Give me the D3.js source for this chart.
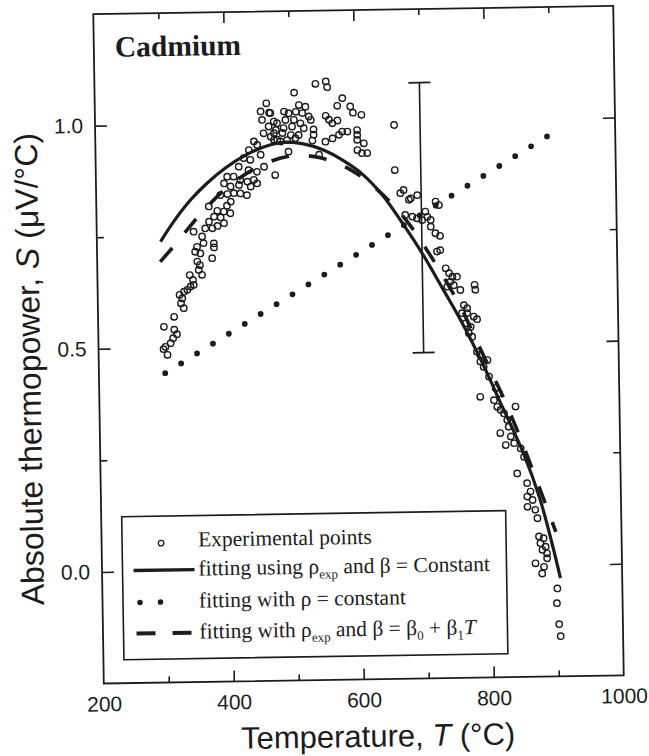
<!DOCTYPE html>
<html><head><meta charset="utf-8">
<script src="https://cdn.jsdelivr.net/npm/d3@7"></script>
<style>body{margin:0;background:#fff}</style></head>
<body>
<svg id="chart" width="649" height="756"></svg>
<script>
// ---- data ----
const xTickLabels = [200, 400, 600, 800, 1000];
const xTicksMajor = [400, 600, 800];
const xTicksMinor = [300, 500, 700, 900];
const yTicksMajor = [0, 0.5, 1.0];
const yTicksMinor = [0.25, 0.75];

const expT = [301,317,317,321,315,311,303,306,300,332,328,330,326,333,338,343,348,347,342,361,356,358,354,377,351,359,354,364,380,380,362,349,367,378,386,396,373,381,391,406,396,373,386,401,407,391,402,412,422,432,
464,455,468,457,475,467,459,478,470,480,444,449,436,454,428,438,420,435,459,448,402,412,422,433,443,448,476,397,407,420,438,
540,556,558,507,581,593,573,597,610,555,560,573,565,660,491,514,524,498,509,519,529,532,506,493,480,470,490,503,516,521,475,488,501,513,536,536,534,475,485,495,508,554,565,575,588,580,603,603,603,613,603,610,618,497,544,
660,673,668,684,694,681,722,727,675,686,693,701,706,709,714,714,721,728,728,723,736,741,746,753,743,748,738,758,780,781,763,768,760,768,778,783,765,773,770,775,782,787,798,787,792,800,786,810,815,807,812,817,822,827,829,840,816,832,824,837,847,852,841,856,861,856,864,856,868,871,873,880,875,883,878,885,867,880,877,900,899,902,904,885];
const expS = [0.547,0.569,0.540,0.530,0.521,0.510,0.502,0.484,0.497,0.588,0.599,0.610,0.618,0.625,0.629,0.636,0.640,0.651,0.662,0.662,0.673,0.684,0.692,0.699,0.714,0.710,0.725,0.733,0.732,0.723,0.748,0.759,0.766,0.766,0.771,0.777,0.781,0.792,0.790,0.799,0.803,0.815,0.805,0.816,0.825,0.840,0.842,0.844,0.843,0.839,
1.044,1.026,1.023,1.007,1.003,0.992,0.977,0.984,0.969,0.962,0.959,0.951,0.940,0.929,0.922,0.918,0.903,0.895,0.902,0.891,0.881,0.881,0.873,0.869,0.873,0.865,0.883,0.866,0.859,0.862,0.858,
1.086,1.091,1.078,1.067,1.053,1.034,1.036,1.020,1.015,1.014,1.005,1.003,0.997,0.991,1.025,1.039,1.035,1.021,1.024,1.021,1.013,1.005,1.006,1.006,0.999,1.022,0.988,0.991,0.998,0.987,0.977,0.977,0.972,0.972,0.984,0.972,0.959,0.962,0.958,0.961,0.965,0.956,0.963,0.971,0.978,0.978,0.981,0.970,0.959,0.951,0.936,0.929,0.929,0.935,0.927,
0.890,0.845,0.838,0.826,0.833,0.823,0.818,0.810,0.789,0.785,0.781,0.777,0.796,0.784,0.777,0.762,0.747,0.741,0.709,0.706,0.668,0.657,0.649,0.649,0.638,0.630,0.627,0.619,0.630,0.619,0.585,0.578,0.567,0.567,0.559,0.553,0.544,0.536,0.522,0.514,0.480,0.473,0.461,0.458,0.446,0.424,0.379,0.398,0.386,0.371,0.356,0.349,0.341,0.326,0.311,0.356,0.297,0.289,0.270,0.274,0.262,0.243,0.206,0.184,0.165,0.154,0.146,0.131,0.124,0.105,0.064,0.060,0.049,0.041,0.034,0.026,0.004,-0.004,-0.019,-0.053,-0.086,-0.133,-0.160,0.015];

// fitting using rho_exp and beta = constant (solid)
const fitConstT = [298,320,345,370,400,430,460,490,520,550,580,610,640,670,700,730,760,790,820,850,875,895,905];
const fitConstS = [0.738,0.785,0.830,0.866,0.901,0.928,0.947,0.956,0.952,0.938,0.914,0.882,0.835,0.772,0.703,0.625,0.545,0.455,0.355,0.255,0.150,0.035,-0.030];
// fitting with rho = constant (dotted)
const fitRhoT = [302, 895];
const fitRhoS = [0.443, 0.960];
// fitting with rho_exp and beta = beta0 + beta1 T (dashed)
const fitLinT = [297,320,340,360,400,450,500,546,600,650,680,720,760,780,802,822,842,862,880,899];
const fitLinS = [0.693,0.730,0.765,0.798,0.855,0.902,0.925,0.920,0.885,0.822,0.770,0.680,0.575,0.510,0.440,0.375,0.303,0.225,0.152,0.074];
// error bar
const errT = [700];
const errLow = [0.48];
const errHigh = [1.085];

// ---- layout ----
const ink = "#1c1c1c";
const svg = d3.select("#chart");
const g = svg.append("g").attr("transform", "rotate(-0.9,357,344)");
const L = 98.5, R = 618.5, T = 10, B = 679.5;
const x = d3.scaleLinear().domain([200, 1000]).range([L, R]);
const y = d3.scaleLinear().domain([-0.25, 1.25]).range([B, T]);

// frame
g.append("rect").attr("x", L).attr("y", T).attr("width", R - L).attr("height", B - T)
  .attr("fill", "none").attr("stroke", ink).attr("stroke-width", 1.8);

function tickAxis(axis, tr, len, vals) {
  const a = g.append("g").attr("transform", tr)
    .call(axis.tickValues(vals).tickSizeInner(len).tickSizeOuter(0).tickFormat(""));
  a.select(".domain").remove();
  a.selectAll("line").attr("stroke", ink).attr("stroke-width", 1.6);
}
tickAxis(d3.axisBottom(x), `translate(0,${B})`, -11, xTicksMajor);
tickAxis(d3.axisBottom(x), `translate(0,${B})`, -6, xTicksMinor);
tickAxis(d3.axisTop(x), `translate(0,${T})`, -11, xTicksMajor);
tickAxis(d3.axisTop(x), `translate(0,${T})`, -6, xTicksMinor);
tickAxis(d3.axisLeft(y), `translate(${L},0)`, -12, yTicksMajor);
tickAxis(d3.axisLeft(y), `translate(${L},0)`, -7, yTicksMinor);
tickAxis(d3.axisRight(y), `translate(${R},0)`, -12, yTicksMajor);
tickAxis(d3.axisRight(y), `translate(${R},0)`, -7, yTicksMinor);

// tick labels
const xl = g.append("g").attr("transform", `translate(0,${B})`)
  .call(d3.axisBottom(x).tickValues(xTickLabels).tickSize(0).tickPadding(13).tickFormat(d3.format("d")));
xl.select(".domain").remove();
xl.selectAll("text").attr("font-family", "Liberation Sans, Arial, sans-serif").attr("font-size", 21).attr("fill", ink);
const yl = g.append("g").attr("transform", `translate(${L},0)`)
  .call(d3.axisLeft(y).tickValues(yTicksMajor).tickSize(0).tickPadding(12).tickFormat(d3.format(".1f")));
yl.select(".domain").remove();
yl.selectAll("text").attr("font-family", "Liberation Sans, Arial, sans-serif").attr("font-size", 21).attr("fill", ink);

// axis titles
const xt = g.append("text").attr("x", 372).attr("y", 747).attr("text-anchor", "middle")
  .attr("font-family", "Liberation Sans, Arial, sans-serif").attr("font-size", 31).attr("fill", ink);
xt.append("tspan").text("Temperature, ");
xt.append("tspan").attr("font-style", "italic").text("T");
xt.append("tspan").text(" (°C)");
const yt = g.append("text").attr("transform", "translate(40,364) rotate(-90)").attr("text-anchor", "middle")
  .attr("font-family", "Liberation Sans, Arial, sans-serif").attr("font-size", 32).attr("fill", ink);
yt.append("tspan").text("Absolute thermopower, ");
yt.append("tspan").attr("font-style", "italic").text("S");
yt.append("tspan").text(" (μV/°C)");

// title
g.append("text").attr("x", 119.5).attr("y", 53).attr("font-family", "Liberation Serif, Times New Roman, serif")
  .attr("font-weight", "bold").attr("font-size", 29.5).attr("fill", ink).text("Cadmium");

// curves
const line = d3.line().x(d => x(d[0])).y(d => y(d[1])).curve(d3.curveCatmullRom.alpha(0.5));
const constData = fitConstT.map((t, i) => [t, fitConstS[i]]);
const linData = fitLinT.map((t, i) => [t, fitLinS[i]]);
const rhoData = fitRhoT.map((t, i) => [t, fitRhoS[i]]);

g.append("path").attr("d", line(constData)).attr("fill", "none").attr("stroke", ink).attr("stroke-width", 3.2);
g.append("path").attr("d", line(linData)).attr("fill", "none").attr("stroke", ink).attr("stroke-width", 3.6)
  .attr("stroke-dasharray", "18 20");
const dotted = g.append("path").attr("d", d3.line().x(d => x(d[0])).y(d => y(d[1]))(rhoData))
  .attr("fill", "none").attr("stroke", ink).attr("stroke-width", 5.8).attr("stroke-linecap", "round");
const dl = dotted.node().getTotalLength();
dotted.attr("stroke-dasharray", `0 ${dl / Math.round(dl / 18.5)}`);

// error bar
errT.forEach((t, i) => {
  g.append("line").attr("x1", x(t)).attr("x2", x(t)).attr("y1", y(errLow[i])).attr("y2", y(errHigh[i]))
    .attr("stroke", ink).attr("stroke-width", 1.6);
  [errLow[i], errHigh[i]].forEach(v => g.append("line").attr("x1", x(t) - 11).attr("x2", x(t) + 11)
    .attr("y1", y(v)).attr("y2", y(v)).attr("stroke", ink).attr("stroke-width", 1.8));
});

// scatter
g.append("g").selectAll("circle").data(expT.map((t, i) => [t, expS[i]])).join("circle")
  .attr("cx", d => x(d[0])).attr("cy", d => y(d[1])).attr("r", 3.2)
  .attr("fill", "none").attr("stroke", ink).attr("stroke-width", 1.4);

// legend
const lg = g.append("g");
lg.append("rect").attr("x", 119).attr("y", 513).attr("width", 384).attr("height", 143)
  .attr("fill", "#fff").attr("stroke", ink).attr("stroke-width", 1.6);
const rowsY = [538, 567, 599, 630];
lg.append("circle").attr("cx", 158).attr("cy", rowsY[0] + 2).attr("r", 2.8).attr("fill", "none").attr("stroke", ink).attr("stroke-width", 1.3);
lg.append("line").attr("x1", 130).attr("x2", 191).attr("y1", rowsY[1]).attr("y2", rowsY[1]).attr("stroke", ink).attr("stroke-width", 3.4);
lg.append("line").attr("x1", 136).attr("x2", 177).attr("y1", rowsY[2]).attr("y2", rowsY[2]).attr("stroke", ink)
  .attr("stroke-width", 5.5).attr("stroke-linecap", "round").attr("stroke-dasharray", "0 20.5");
lg.append("line").attr("x1", 132).attr("x2", 187).attr("y1", rowsY[3]).attr("y2", rowsY[3]).attr("stroke", ink)
  .attr("stroke-width", 4).attr("stroke-dasharray", "19 17");
const ff = "Liberation Serif, Times New Roman, serif";
function ltext(yy) {
  return lg.append("text").attr("x", 195).attr("y", yy + 6).attr("font-family", ff).attr("font-size", 21.5).attr("fill", ink);
}
ltext(rowsY[0]).text("Experimental points");
let t1 = ltext(rowsY[1]);
t1.append("tspan").text("fitting using ρ");
t1.append("tspan").attr("font-size", 13).attr("dy", 5).text("exp");
t1.append("tspan").attr("dy", -5).text(" and β = Constant");
ltext(rowsY[2]).text("fitting with ρ = constant");
let t3 = ltext(rowsY[3]);
t3.append("tspan").text("fitting with ρ");
t3.append("tspan").attr("font-size", 13).attr("dy", 5).text("exp");
t3.append("tspan").attr("dy", -5).text(" and β = β");
t3.append("tspan").attr("font-size", 13).attr("dy", 5).text("0");
t3.append("tspan").attr("dy", -5).text(" + β");
t3.append("tspan").attr("font-size", 13).attr("dy", 5).text("1");
t3.append("tspan").attr("dy", -5).attr("font-style", "italic").text("T");
</script>
</body></html>
